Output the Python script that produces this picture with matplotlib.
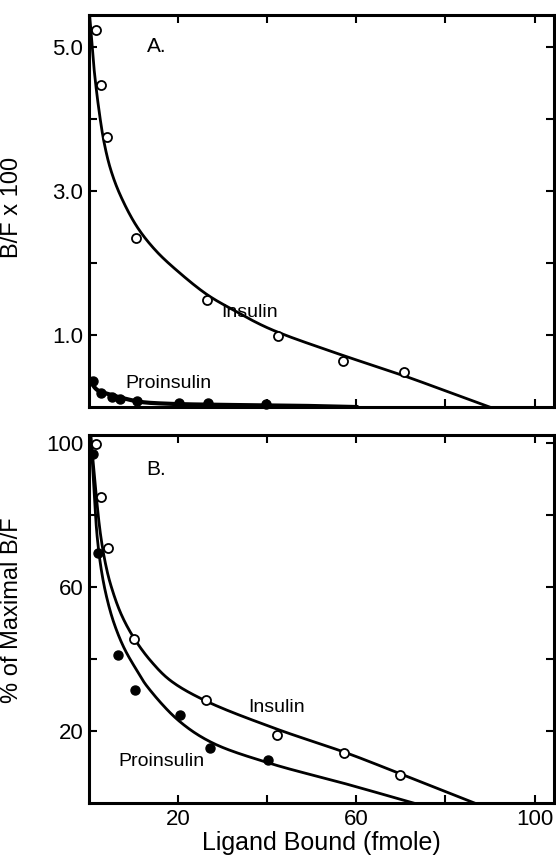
import matplotlib
matplotlib.use('Agg')
import numpy as np
import matplotlib.pyplot as plt
from matplotlib.ticker import FixedLocator, FuncFormatter

plt.rcParams['font.family'] = ['Liberation Sans', 'DejaVu Sans']

# ---- Panel A: B/F x 100 vs ligand bound (fmole) ----
ins_a_x = [1.6, 2.7, 4.0, 10.6, 26.5, 42.5, 56.9, 70.6]
ins_a_y = [5.23, 4.47, 3.74, 2.35, 1.49, 0.98, 0.64, 0.48]
pro_a_x = [0.9, 2.7, 5.2, 7.0, 10.8, 20.2, 26.7, 39.8]
pro_a_y = [0.36, 0.19, 0.14, 0.11, 0.08, 0.055, 0.055, 0.04]

# fitted curves
ins_a_cx = [0.15, 1.1, 2.2, 3.4, 4.9, 7.1, 10.8, 15.0, 20.0, 26.5, 32.0, 40.4, 55.4, 70.4, 80.2, 89.9]
ins_a_cy = [5.44, 4.72, 4.14, 3.67, 3.29, 2.93, 2.50, 2.17, 1.88, 1.56, 1.36, 1.09, 0.75, 0.44, 0.22, 0.0]
pro_a_cx = [0.0, 0.4, 1.8, 4.9, 8.5, 11.7, 18.0, 30.0, 45.0, 60.0]
pro_a_cy = [0.42, 0.36, 0.24, 0.17, 0.11, 0.07, 0.045, 0.03, 0.02, 0.0]

# ---- Panel B: % of maximal B/F ----
ins_b_x = [1.6, 2.7, 4.3, 10.1, 26.3, 42.2, 57.3, 69.9]
ins_b_y = [99.7, 85.0, 70.8, 45.6, 28.6, 18.9, 13.9, 7.8]
pro_b_x = [0.9, 2.0, 6.5, 10.3, 20.4, 27.2, 40.2]
pro_b_y = [97.0, 69.4, 41.0, 31.4, 24.4, 15.3, 11.9]

ins_b_cx = [0.4, 1.5, 2.6, 3.7, 4.9, 7.2, 10.1, 13.9, 18.4, 26.3, 42.0, 57.8, 70.1, 86.5]
ins_b_cy = [102.0, 87.0, 74.5, 66.5, 60.5, 52.5, 45.8, 39.4, 33.9, 28.3, 20.6, 13.9, 8.0, 0.0]
pro_b_cx = [0.4, 1.1, 1.8, 2.8, 4.0, 5.6, 7.9, 10.8, 13.1, 20.2, 27.7, 40.4, 57.7, 72.8]
pro_b_cy = [102.0, 88.0, 74.5, 64.5, 57.0, 50.0, 43.0, 36.7, 32.3, 22.8, 16.7, 11.1, 5.3, 0.0]

x_ticks = [20, 40, 60, 80, 100]
x_labels = [20, 60, 100]


def smooth_line(ax, xs, ys, xr, yr, **kw):
    # centripetal catmull-rom through the traced vertices, just for drawing
    P = np.column_stack([np.asarray(xs) / xr, np.asarray(ys) / yr])
    P = np.vstack([2 * P[0] - P[1], P, 2 * P[-1] - P[-2]])
    pts = []
    for i in range(1, len(P) - 2):
        p0, p1, p2, p3 = P[i - 1], P[i], P[i + 1], P[i + 2]
        t0 = 0.0
        t1 = t0 + np.linalg.norm(p1 - p0) ** 0.5
        t2 = t1 + np.linalg.norm(p2 - p1) ** 0.5
        t3 = t2 + np.linalg.norm(p3 - p2) ** 0.5
        t = np.linspace(t1, t2, 25, endpoint=False)[:, None]
        a1 = (t1 - t) / (t1 - t0) * p0 + (t - t0) / (t1 - t0) * p1
        a2 = (t2 - t) / (t2 - t1) * p1 + (t - t1) / (t2 - t1) * p2
        a3 = (t3 - t) / (t3 - t2) * p2 + (t - t2) / (t3 - t2) * p3
        b1 = (t2 - t) / (t2 - t0) * a1 + (t - t0) / (t2 - t0) * a2
        b2 = (t3 - t) / (t3 - t1) * a2 + (t - t1) / (t3 - t1) * a3
        c = (t2 - t) / (t2 - t1) * b1 + (t - t1) / (t2 - t1) * b2
        pts.append(c)
    pts.append(P[-2][None])
    pts = np.vstack(pts)
    ax.plot(pts[:, 0] * xr, pts[:, 1] * yr, **kw)


fig = plt.figure(figsize=(5.56, 8.56), dpi=100)
ax_a = fig.add_axes([0.160, 0.5245, 0.836, 0.458])
ax_b = fig.add_axes([0.160, 0.0619, 0.836, 0.430])

lw = 2.0
for ax in (ax_a, ax_b):
    for s in ax.spines.values():
        s.set_linewidth(2.2)
    ax.set_xlim(0, 104.3)
    ax.xaxis.set_major_locator(FixedLocator(x_ticks))
    ax.tick_params(direction='in', length=6, width=1.5, top=True, right=True,
                   labelsize=16, pad=4)

# panel A
smooth_line(ax_a, ins_a_cx, ins_a_cy, 104.3, 5.44, color='black', lw=lw, zorder=2)
smooth_line(ax_a, pro_a_cx, pro_a_cy, 104.3, 5.44, color='black', lw=3.0, zorder=2)
ax_a.plot(ins_a_x, ins_a_y, 'o', mfc='white', mec='black', mew=1.3, ms=6.5, zorder=3)
ax_a.plot(pro_a_x, pro_a_y, 'o', mfc='black', mec='black', ms=6.5, zorder=3, clip_on=False)
ax_a.set_ylim(0, 5.44)
ax_a.yaxis.set_major_locator(FixedLocator([1, 2, 3, 4, 5]))
ax_a.yaxis.set_major_formatter(FuncFormatter(lambda v, p: '%.1f' % v if v in (1, 3, 5) else ''))
ax_a.set_xticklabels([])
ax_a.set_ylabel('B/F x 100', fontsize=17)
ax_a.yaxis.set_label_coords(-0.142, 0.51)
ax_a.text(0.145, 0.92, 'A.', transform=ax_a.transAxes, fontsize=15, ha='center', va='center')
ax_a.text(36.0, 1.31, 'Insulin', fontsize=14, ha='center', va='center')
ax_a.text(17.8, 0.33, 'Proinsulin', fontsize=14, ha='center', va='center')

# panel B
smooth_line(ax_b, ins_b_cx, ins_b_cy, 104.3, 102.2, color='black', lw=lw, zorder=2)
smooth_line(ax_b, pro_b_cx, pro_b_cy, 104.3, 102.2, color='black', lw=lw, zorder=2)
ax_b.plot(ins_b_x, ins_b_y, 'o', mfc='white', mec='black', mew=1.3, ms=6.5, zorder=3, clip_on=False)
ax_b.plot(pro_b_x, pro_b_y, 'o', mfc='black', mec='black', ms=6.5, zorder=3, clip_on=False)
ax_b.set_ylim(0, 102.2)
ax_b.yaxis.set_major_locator(FixedLocator([20, 40, 60, 80, 100]))
ax_b.yaxis.set_major_formatter(FuncFormatter(lambda v, p: '%d' % v if v in (20, 60, 100) else ''))
ax_b.xaxis.set_major_formatter(FuncFormatter(lambda v, p: '%d' % v if v in x_labels else ''))
ax_b.set_ylabel('% of Maximal B/F', fontsize=17)
ax_b.yaxis.set_label_coords(-0.142, 0.525)
ax_b.set_xlabel('Ligand Bound (fmole)', fontsize=18, labelpad=1)
ax_b.text(0.145, 0.905, 'B.', transform=ax_b.transAxes, fontsize=15, ha='center', va='center')
ax_b.text(42.2, 26.5, 'Insulin', fontsize=14, ha='center', va='center')
ax_b.text(16.2, 11.5, 'Proinsulin', fontsize=14, ha='center', va='center')

fig.savefig('out.png', dpi=100)
